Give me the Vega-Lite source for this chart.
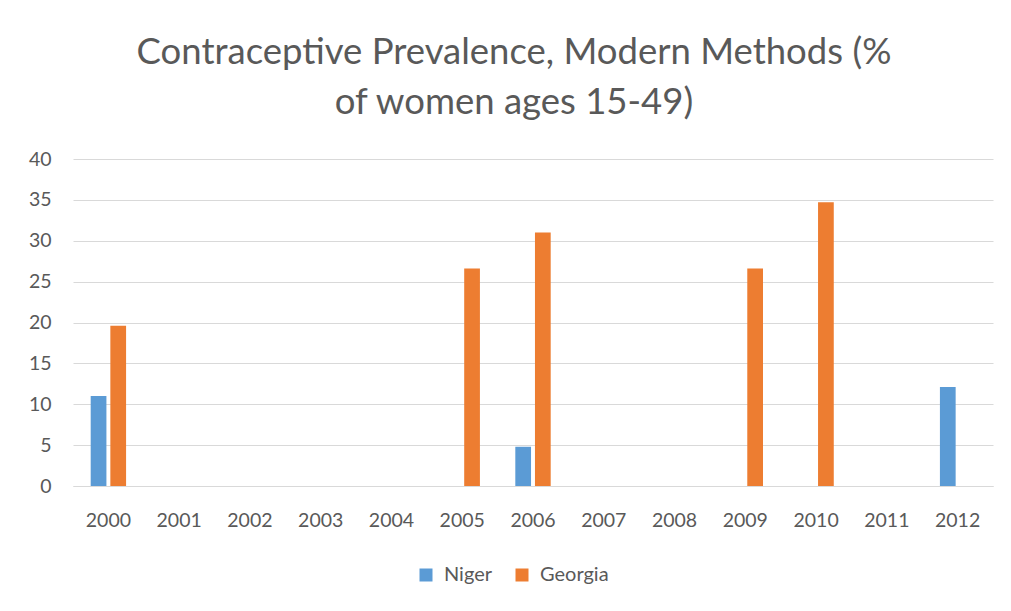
{
  "$schema": "https://vega.github.io/schema/vega-lite/v6.json",
  "autosize": {"type": "none"},
  "width": 920,
  "height": 327,
  "padding": {"left": 73, "top": 159, "right": 18, "bottom": 125},
  "background": "white",
  "title": {
    "text": ["Contraceptive Prevalence, Modern Methods (%", "of women ages 15-49)"],
    "font": "Lato",
    "fontSize": 36.5,
    "fontWeight": "normal",
    "color": "#595959",
    "lineHeight": 50,
    "offset": 28,
    "dx": -19,
    "anchor": "middle"
  },
  "data": {
    "values": [
      {"year": "2000", "country": "Niger", "value": 11.0},
      {"year": "2000", "country": "Georgia", "value": 19.6},
      {"year": "2005", "country": "Georgia", "value": 26.6},
      {"year": "2006", "country": "Niger", "value": 4.8},
      {"year": "2006", "country": "Georgia", "value": 31.0},
      {"year": "2009", "country": "Georgia", "value": 26.6},
      {"year": "2010", "country": "Georgia", "value": 34.7},
      {"year": "2012", "country": "Niger", "value": 12.1}
    ]
  },
  "mark": {"type": "bar"},
  "encoding": {
    "x": {
      "field": "year",
      "type": "nominal",
      "scale": {
        "domain": ["2000", "2001", "2002", "2003", "2004", "2005", "2006", "2007", "2008", "2009", "2010", "2011", "2012"],
        "paddingInner": 0.5,
        "paddingOuter": 0.25
      },
      "axis": {
        "title": null,
        "labelAngle": 0,
        "labelFont": "Lato",
        "labelFontSize": 19.5,
        "labelColor": "#595959",
        "ticks": false,
        "domainColor": "#D9D9D9",
        "labelPadding": 25
      }
    },
    "xOffset": {
      "field": "country",
      "type": "nominal",
      "sort": ["Niger", "Georgia"],
      "scale": {"domain": ["Niger", "Georgia"], "paddingInner": 0.2}
    },
    "y": {
      "field": "value",
      "type": "quantitative",
      "scale": {"domain": [0, 40]},
      "axis": {
        "title": null,
        "values": [0, 5, 10, 15, 20, 25, 30, 35, 40],
        "labelFont": "Lato",
        "labelFontSize": 19.5,
        "labelColor": "#595959",
        "ticks": false,
        "domain": false,
        "gridColor": "#D9D9D9",
        "labelPadding": 22
      }
    },
    "color": {
      "field": "country",
      "type": "nominal",
      "sort": ["Niger", "Georgia"],
      "scale": {"domain": ["Niger", "Georgia"], "range": ["#5B9BD5", "#ED7D31"]},
      "legend": {
        "title": null,
        "orient": "none",
        "direction": "horizontal",
        "legendX": 343,
        "legendY": 406,
        "symbolType": "square",
        "symbolSize": 169,
        "symbolStrokeWidth": 0,
        "labelFont": "Lato",
        "labelFontSize": 20,
        "labelOffset": 8,
        "labelColor": "#595959",
        "columnPadding": 20
      }
    }
  },
  "config": {
    "view": {"stroke": null}
  }
}
